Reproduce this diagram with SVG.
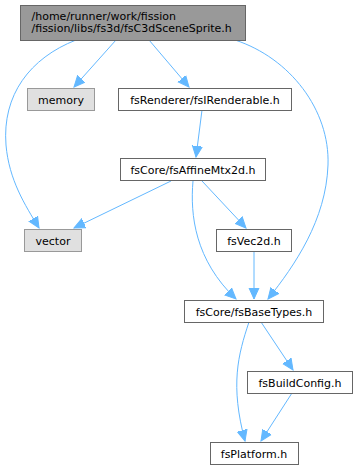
<svg xmlns="http://www.w3.org/2000/svg" width="357" height="469" viewBox="0 0 357 469">
<style>
.n rect{fill:#fff;stroke:#666;stroke-width:1}
.n.sys rect{fill:#e0e0e0;stroke:#999}
.n.main rect{fill:#999;stroke:#666}
text{font-family:"DejaVu Sans",sans-serif;font-size:11px;fill:#000;text-anchor:middle}
.n.main text{text-anchor:start}
.e path{fill:none;stroke:#63b8ff;stroke-width:1;marker-end:url(#ah)}
</style>
<defs>
<marker id="ah" markerUnits="userSpaceOnUse" markerWidth="12" markerHeight="12" viewBox="0 0 12 12" refX="11" refY="6" orient="auto">
<path d="M0,1 L11,6 L0,11 Z" fill="#63b8ff" stroke="#63b8ff"/>
</marker>
</defs>
<rect width="357" height="469" fill="#fff"/>
<g class="e">
<path d="M76,40 C30,58 2,95 6,145 C9,180 25,205 39,228"/>
<path d="M116,40 L74,87"/>
<path d="M149,40 L189,87"/>
<path d="M235,40 C290,58 330,110 328,165 C326,220 295,265 268,299"/>
<path d="M202,110 L196,157"/>
<path d="M171,181 L74,228"/>
<path d="M202,181 L246,228"/>
<path d="M193,181 C190,215 195,260 236,299"/>
<path d="M254,252 L254,299"/>
<path d="M261,322 L293,370"/>
<path d="M249,322 C238,355 230,385 245,441"/>
<path d="M292,393 L261,441"/>
</g>
<g id="node_main" class="n main"><rect x="20.5" y="5.5" width="225" height="35"/><text x="31.5" y="20">/home/runner/work/fission</text><text x="31.5" y="32">/fission/libs/fs3d/fsC3dSceneSprite.h</text></g>
<g id="node_memory" class="n sys"><rect x="27.5" y="88.5" width="67" height="22"/><text x="61" y="103.5">memory</text></g>
<g id="node_irenderable" class="n"><rect x="118.5" y="88.5" width="173" height="22"/><text x="205" y="103.5">fsRenderer/fsIRenderable.h</text></g>
<g id="node_affine" class="n"><rect x="120.5" y="158.5" width="145" height="22"/><text x="193" y="173.5">fsCore/fsAffineMtx2d.h</text></g>
<g id="node_vector" class="n sys"><rect x="24.5" y="229.5" width="57" height="22"/><text x="53" y="244.5">vector</text></g>
<g id="node_vec2d" class="n"><rect x="216.5" y="229.5" width="75" height="22"/><text x="254" y="244.5">fsVec2d.h</text></g>
<g id="node_basetypes" class="n"><rect x="184.5" y="300.5" width="139" height="22"/><text x="254" y="315.5">fsCore/fsBaseTypes.h</text></g>
<g id="node_buildconfig" class="n"><rect x="247.5" y="371.5" width="105" height="22"/><text x="300" y="386.5">fsBuildConfig.h</text></g>
<g id="node_platform" class="n"><rect x="210.5" y="442.5" width="88" height="22"/><text x="254" y="457.5">fsPlatform.h</text></g>
</svg>
